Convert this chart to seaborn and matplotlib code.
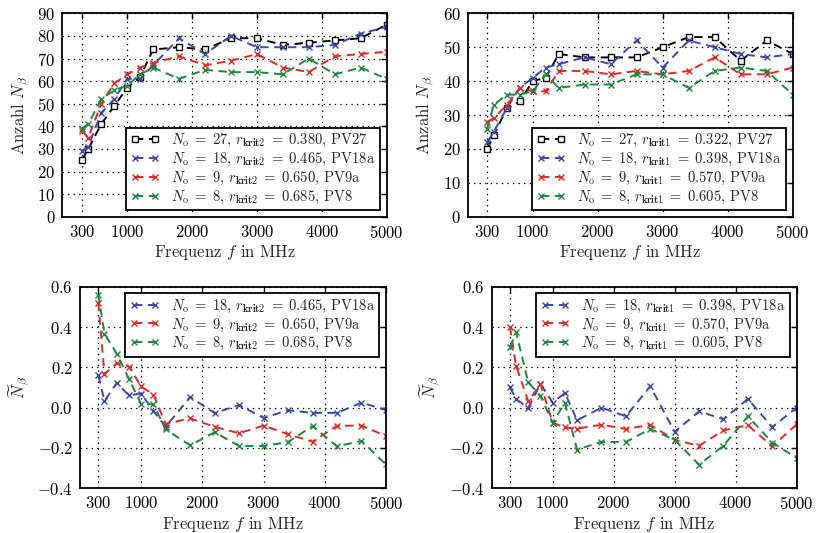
import numpy as np
import pandas as pd
import matplotlib
matplotlib.use("Agg")
import matplotlib.pyplot as plt
import seaborn as sns

# Frequenzpunkte (MHz)
freq = [300, 400, 600, 800, 1000, 1200, 1400, 1800, 2200, 2600, 3000, 3400, 3800, 4200, 4600, 5000]

# Anzahl N_beta, r_krit2 (links oben)
k2_pv27 = [25, 30, 41, 49, 57, 62, 74, 75, 74, 79, 79, 76, 77, 78, 79, 85]
k2_pv18a = [29, 31, 46, 52, 61, 61, 67, 79, 72, 80, 75, 75, 75, 76, 81, 84]
k2_pv9a = [38, 35, 50, 59, 63, 66, 68, 71, 67, 69, 72, 66, 64, 71, 72, 73]
k2_pv8 = [39, 41, 52, 56, 58, 63, 66, 61, 65, 64, 64, 63, 70, 63, 66, 61]

# Anzahl N_beta, r_krit1 (rechts oben)
k1_pv27 = [20, 24, 32, 34, 40, 41, 48, 47, 47, 47, 50, 53, 53, 46, 52, 48]
k1_pv18a = [22, 25, 32, 38, 41, 44, 45, 47, 45, 52, 44, 52, 50, 48, 47, 48]
k1_pv9a = [28, 29, 33, 38, 37, 37, 43, 43, 42, 43, 42, 43, 47, 42, 42, 44]
k1_pv8 = [26, 33, 36, 36, 37, 42, 38, 39, 39, 42, 42, 38, 43, 44, 43, 36]

# relative Abweichung, r_krit2 (links unten)
k2_rel_pv18a = [0.160, 0.033, 0.122, 0.061, 0.070, -0.016, -0.095, 0.053, -0.027, 0.013,
                -0.051, -0.013, -0.026, -0.026, 0.025, -0.012]
k2_rel_pv9a = [0.520, 0.167, 0.220, 0.204, 0.105, 0.065, -0.081, -0.053, -0.095, -0.127,
               -0.089, -0.132, -0.169, -0.090, -0.089, -0.141]
k2_rel_pv8 = [0.560, 0.367, 0.268, 0.143, 0.018, 0.016, -0.108, -0.187, -0.122, -0.190,
              -0.190, -0.171, -0.091, -0.192, -0.165, -0.282]

# relative Abweichung, r_krit1 (rechts unten)
k1_rel_pv18a = [0.100, 0.042, 0.000, 0.118, 0.025, 0.073, -0.063, 0.000, -0.043, 0.106,
                -0.120, -0.019, -0.057, 0.043, -0.096, 0.000]
k1_rel_pv9a = [0.400, 0.208, 0.031, 0.118, -0.075, -0.098, -0.104, -0.085, -0.106, -0.085,
               -0.160, -0.189, -0.113, -0.087, -0.192, -0.083]
k1_rel_pv8 = [0.300, 0.375, 0.125, 0.059, -0.075, 0.024, -0.208, -0.170, -0.170, -0.106,
              -0.160, -0.283, -0.189, -0.043, -0.173, -0.250]

labels_k2 = [r"$N_{\rm o}\;=\;27$, $r_{\mathbf{krit2}}\;=\;0.380$, PV27",
             r"$N_{\rm o}\;=\;18$, $r_{\mathbf{krit2}}\;=\;0.465$, PV18a",
             r"$N_{\rm o}\;=\;9$, $r_{\mathbf{krit2}}\;=\;0.650$, PV9a",
             r"$N_{\rm o}\;=\;8$, $r_{\mathbf{krit2}}\;=\;0.685$, PV8"]
labels_k1 = [r"$N_{\rm o}\;=\;27$, $r_{\mathbf{krit1}}\;=\;0.322$, PV27",
             r"$N_{\rm o}\;=\;18$, $r_{\mathbf{krit1}}\;=\;0.398$, PV18a",
             r"$N_{\rm o}\;=\;9$, $r_{\mathbf{krit1}}\;=\;0.570$, PV9a",
             r"$N_{\rm o}\;=\;8$, $r_{\mathbf{krit1}}\;=\;0.605$, PV8"]

# Farben / Marker je Datensatz
farben = ["black", "#3a48ac", "#e62828", "#1c8a3c"]
marker = ["s", "x", "x", "x"]

sns.set_style("white")
plt.rcParams.update({
    "font.family": "serif",
    "font.serif": ["cmr10", "DejaVu Serif"],
    "mathtext.fontset": "cm",
    "axes.formatter.use_mathtext": True,
    "axes.unicode_minus": True,
    "font.size": 10,
    "axes.linewidth": 1.3,
    "axes.edgecolor": "black",
    "xtick.direction": "in",
    "ytick.direction": "in",
    "xtick.top": True,
    "ytick.right": True,
    "xtick.major.size": 4,
    "ytick.major.size": 4,
    "xtick.major.width": 1.0,
    "ytick.major.width": 1.0,
    "xtick.color": "black",
    "ytick.color": "black",
    "xtick.labelsize": 12,
    "ytick.labelsize": 12,
    "xtick.major.pad": 5,
    "ytick.major.pad": 5,
    "lines.scale_dashes": False,
})

fig = plt.figure(figsize=(8.17, 5.33), dpi=100)
ax_tl = fig.add_axes([0.0763, 0.5934, 0.397, 0.3816])
ax_tr = fig.add_axes([0.5725, 0.5934, 0.3978, 0.3816])
ax_bl = fig.add_axes([0.0979, 0.0839, 0.3745, 0.3782])
ax_br = fig.add_axes([0.6018, 0.0839, 0.3733, 0.3782])


def kurven(ax, reihen, labels, farben, marker):
    for y, lab, c, m in zip(reihen, labels, farben, marker):
        sns.lineplot(x=freq, y=y, ax=ax, color=c, marker=m, markersize=5 if m == "s" else 4.5,
                     markerfacecolor="white" if m == "s" else c, markeredgecolor=c,
                     markeredgewidth=1.0, linewidth=1.4, linestyle=(0, (6, 4)),
                     label=lab, sort=False)


def achsen(ax, ylim, yticks):
    ax.set_xlim(0, 5000)
    ax.set_xticks([300, 1000, 2000, 3000, 4000, 5000])
    ax.set_ylim(*ylim)
    ax.set_yticks(yticks)
    ax.grid(True, color="black", linestyle=(0, (1, 3)), linewidth=0.9)
    ax.set_xlabel(r"Frequenz $f$ in MHz", fontsize=12, labelpad=2)
    for sp in ax.spines.values():
        sp.set_visible(True)
        sp.set_color("black")


def legende(ax, loc):
    leg = ax.legend(loc=loc, numpoints=2, fontsize=10.5, frameon=True, fancybox=False,
                    framealpha=1, edgecolor="black", handlelength=2.0,
                    labelspacing=0.12, borderpad=0.3, handletextpad=0.8,
                    borderaxespad=0.45)
    leg.get_frame().set_linewidth(1.3)


kurven(ax_tl, [k2_pv27, k2_pv18a, k2_pv9a, k2_pv8], labels_k2, farben, marker)
achsen(ax_tl, (0, 90), np.arange(0, 91, 10))
ax_tl.set_ylabel(r"Anzahl $N_\beta$", fontsize=12)
legende(ax_tl, "lower right")

kurven(ax_tr, [k1_pv27, k1_pv18a, k1_pv9a, k1_pv8], labels_k1, farben, marker)
achsen(ax_tr, (0, 60), np.arange(0, 61, 10))
ax_tr.set_ylabel(r"Anzahl $N_\beta$", fontsize=12)
legende(ax_tr, "lower right")

kurven(ax_bl, [k2_rel_pv18a, k2_rel_pv9a, k2_rel_pv8], labels_k2[1:], farben[1:], marker[1:])
achsen(ax_bl, (-0.4, 0.6), [-0.4, -0.2, 0.0, 0.2, 0.4, 0.6])
ax_bl.set_ylabel(r"$\widetilde{N}_\beta$", fontsize=12)
legende(ax_bl, "upper right")

kurven(ax_br, [k1_rel_pv18a, k1_rel_pv9a, k1_rel_pv8], labels_k1[1:], farben[1:], marker[1:])
achsen(ax_br, (-0.4, 0.6), [-0.4, -0.2, 0.0, 0.2, 0.4, 0.6])
ax_br.set_ylabel(r"$\widetilde{N}_\beta$", fontsize=12)
legende(ax_br, "upper right")

fig.savefig("out.png", dpi=100, facecolor="white")
